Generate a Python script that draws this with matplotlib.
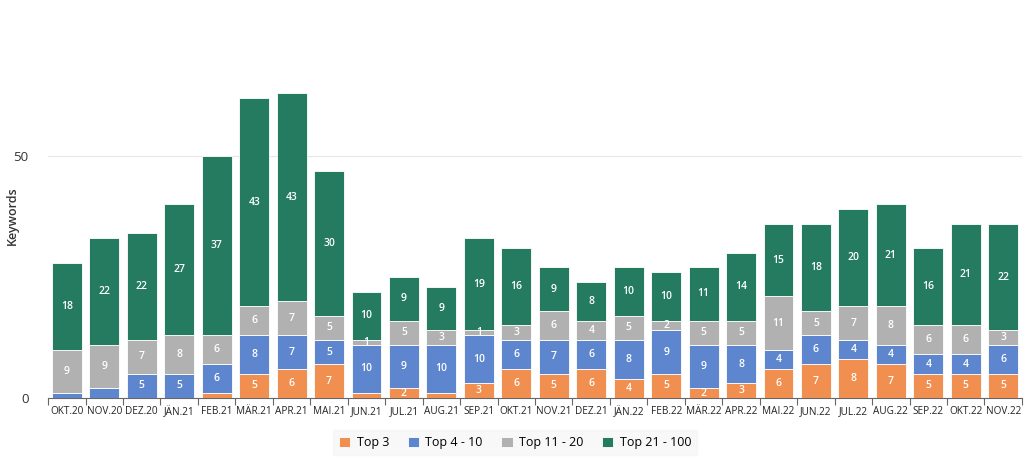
import matplotlib
matplotlib.use("Agg")
import matplotlib.pyplot as plt
import numpy as np

plt.rcParams['font.family'] = ['Open Sans', 'DejaVu Sans']

months = ["OKT.20", "NOV.20", "DEZ.20", "JÄN.21", "FEB.21", "MÄR.21", "APR.21", "MAI.21",
          "JUN.21", "JUL.21", "AUG.21", "SEP.21", "OKT.21", "NOV.21", "DEZ.21", "JÄN.22",
          "FEB.22", "MÄR.22", "APR.22", "MAI.22", "JUN.22", "JUL.22", "AUG.22", "SEP.22",
          "OKT.22", "NOV.22"]
top3 = [0, 0, 0, 0, 1, 5, 6, 7, 1, 2, 1, 3, 6, 5, 6, 4, 5, 2, 3, 6, 7, 8, 7, 5, 5, 5]
top4_10 = [1, 2, 5, 5, 6, 8, 7, 5, 10, 9, 10, 10, 6, 7, 6, 8, 9, 9, 8, 4, 6, 4, 4, 4, 4, 6]
top11_20 = [9, 9, 7, 8, 6, 6, 7, 5, 1, 5, 3, 1, 3, 6, 4, 5, 2, 5, 5, 11, 5, 7, 8, 6, 6, 3]
top21_100 = [18, 22, 22, 27, 37, 43, 43, 30, 10, 9, 9, 19, 16, 9, 8, 10, 10, 11, 14, 15, 18, 20, 21, 16, 21, 22]

series_names = ["Top 3", "Top 4 - 10", "Top 11 - 20", "Top 21 - 100"]
series_vals = [top3, top4_10, top11_20, top21_100]
colors = ["#F08F4F", "#5D86CF", "#B1B1B1", "#257B5F"]
min_label = [2, 3, 1, 1]

fig = plt.figure(figsize=(10.24, 4.62), dpi=100)
ax = fig.add_axes([0.047, 0.1385, 0.951, 0.838])

x = np.arange(len(months))
bottom = np.zeros(len(months))
handles = []
for name, vals, col, ml in zip(series_names, series_vals, colors, min_label):
    vals = np.array(vals, dtype=float)
    bars = ax.bar(x, vals, 0.8, bottom=bottom, color=col, edgecolor="white",
                  linewidth=0.6, label=name, zorder=3)
    handles.append(bars)
    for xi, v, b in zip(x, vals, bottom):
        if v >= ml:
            ax.text(xi, b + v / 2, f"{int(v)}", ha="center", va="center",
                    color="white", fontsize=7.5, fontweight="semibold", zorder=4)
    bottom += vals

ax.set_xlim(-0.5, len(months) - 0.5)
ax.set_ylim(0, 80)
ax.set_yticks([0, 50])
ax.tick_params(axis="y", length=0, labelsize=9.5, labelcolor="#333333", pad=14)
ax.yaxis.grid(True, color="#E6E6E6", linewidth=0.8, zorder=0)
ax.set_axisbelow(True)

ax.set_xticks(x)
ax.set_xticklabels(months, fontsize=7.2, color="#222222")
ax.set_xticks(np.arange(-0.5, len(months)), minor=True)
ax.tick_params(axis="x", which="major", length=0, pad=6)
ax.tick_params(axis="x", which="minor", length=5, color="#666666", width=0.8)

for s in ["top", "right", "left"]:
    ax.spines[s].set_visible(False)
ax.spines["bottom"].set_color("#666666")
ax.spines["bottom"].set_linewidth(0.8)

ax.set_ylabel("Keywords", fontsize=9, fontweight="semibold", color="#333333")
ax.yaxis.set_label_coords(-0.03, 0.47)

leg = fig.legend(handles=handles, labels=series_names, loc="center",
                 bbox_to_anchor=(0.503, 0.042), ncol=4, frameon=True, fontsize=9,
                 handlelength=0.9, handleheight=0.9, handletextpad=0.5,
                 columnspacing=1.5, borderpad=0.5)
leg.get_frame().set_facecolor("#F7F7F7")
leg.get_frame().set_edgecolor("#F7F7F7")
leg.get_frame().set_boxstyle("square", pad=0.0)

fig.savefig("out.png", dpi=100)
